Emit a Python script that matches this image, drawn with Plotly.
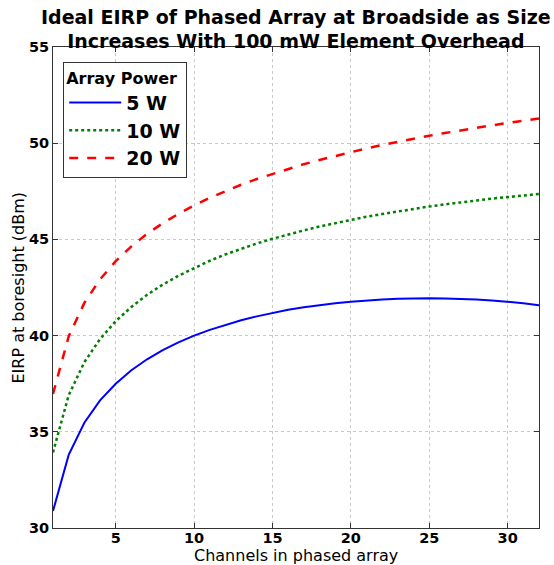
import plotly.graph_objects as go

channels = list(range(1, 33))
eirp_5w = [30.88, 33.80, 35.47, 36.63, 37.50, 38.20, 38.77, 39.24, 39.65, 40.00,
           40.30, 40.57, 40.80, 41.00, 41.18, 41.34, 41.47, 41.58, 41.68, 41.76,
           41.83, 41.87, 41.91, 41.93, 41.94, 41.93, 41.91, 41.87, 41.83, 41.76,
           41.68, 41.58]
eirp_10w = [33.93, 36.90, 38.62, 39.82, 40.75, 41.49, 42.12, 42.65, 43.11, 43.52,
            43.89, 44.22, 44.51, 44.79, 45.03, 45.26, 45.47, 45.67, 45.85, 46.02,
            46.18, 46.32, 46.46, 46.59, 46.71, 46.82, 46.93, 47.02, 47.12, 47.20,
            47.28, 47.36]
eirp_20w = [36.97, 39.96, 41.70, 42.92, 43.87, 44.64, 45.29, 45.84, 46.33, 46.77,
            47.16, 47.51, 47.84, 48.14, 48.41, 48.67, 48.91, 49.13, 49.34, 49.54,
            49.73, 49.91, 50.08, 50.24, 50.39, 50.53, 50.67, 50.81, 50.93, 51.06,
            51.17, 51.28]
series_names = ["5 W", "10 W", "20 W"]
x_ticks = [5, 10, 15, 20, 25, 30]
y_ticks = [30, 35, 40, 45, 50, 55]
x_title = "Channels in phased array"
y_title = "EIRP at boresight (dBm)"

FONT = "DejaVu Sans"

fig = go.Figure()
fig.add_trace(go.Scatter(x=channels, y=eirp_5w, mode="lines", name=series_names[0],
                         legendgroup="a",
                         line=dict(color="#0000ff", width=2, dash="solid")))
fig.add_trace(go.Scatter(x=channels, y=eirp_10w, mode="lines", name=series_names[1],
                         legendgroup="b",
                         line=dict(color="#007f00", width=2.5, dash="dot")))
fig.add_trace(go.Scatter(x=channels, y=eirp_20w, mode="lines", name=series_names[2],
                         legendgroup="c",
                         line=dict(color="#ff0000", width=2.5, dash="dash")))

axis_common = dict(
    showline=True, linecolor="#333333", linewidth=1, mirror="ticks",
    ticks="inside", ticklen=5, tickcolor="#333333",
    showgrid=True, gridcolor="#c8c8c8", griddash="dot", gridwidth=1,
    zeroline=False, automargin=False,
    tickfont=dict(family=FONT, size=14.5, color="black", weight="bold"),
)

fig.update_layout(
    width=554, height=565,
    margin=dict(l=53, r=15, t=47, b=37),
    paper_bgcolor="white", plot_bgcolor="white",
    title=dict(
        text="Ideal EIRP of Phased Array at Broadside as Size<br>Increases With 100 mW Element Overhead",
        font=dict(family=FONT, size=19, color="black", weight="bold"),
        x=0.534, xanchor="center", y=0.958, yanchor="top",
    ),
    xaxis=dict(range=[1, 32], tickvals=x_ticks, ticklabelstandoff=-3, **axis_common),
    yaxis=dict(range=[30, 55], tickvals=y_ticks, **axis_common),
    legend=dict(
        x=0.021, y=0.969, xanchor="left", yanchor="top",
        bgcolor="white", bordercolor="#333333", borderwidth=1,
        font=dict(family=FONT, size=19, color="black", weight="bold"),
        title=dict(text="Array Power", side="top",
                   font=dict(family=FONT, size=16, color="black", weight="bold")),
        itemwidth=52, tracegroupgap=0,
    ),
    annotations=[
        dict(text=x_title, xref="paper", yref="paper", x=0.5, y=-0.058,
             xanchor="center", yanchor="middle", showarrow=False,
             font=dict(family=FONT, size=16, color="black")),
        dict(text=y_title, xref="paper", yref="paper", x=-0.072, y=0.5,
             xanchor="center", yanchor="middle", showarrow=False, textangle=-90,
             font=dict(family=FONT, size=16, color="black")),
    ],
)

fig.write_html("out.html")
